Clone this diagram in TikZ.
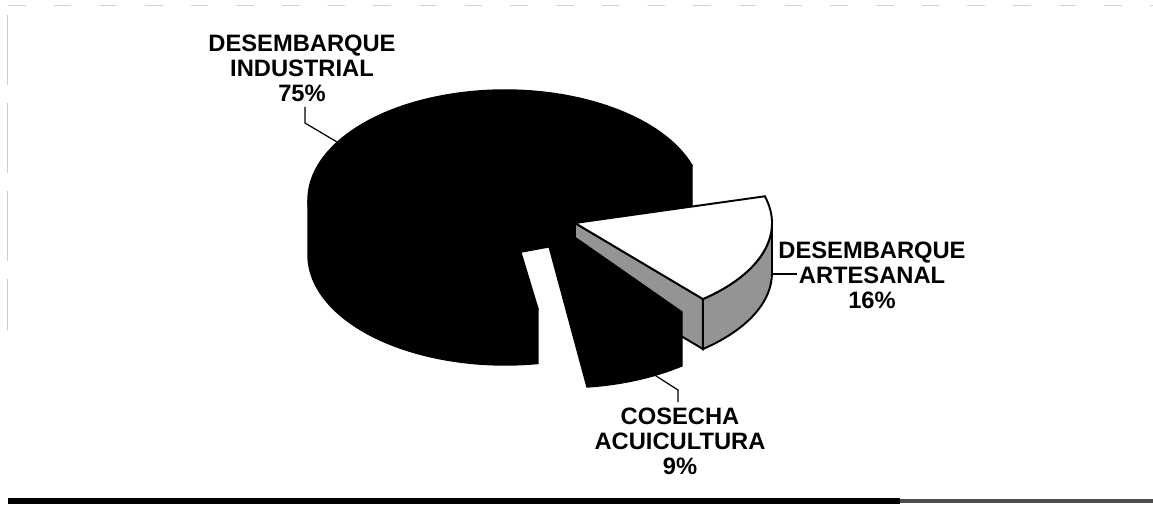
\documentclass[tikz,border=0pt]{standalone}
\usepackage{fontspec}
\setmainfont{Liberation Sans}
\begin{document}
\begin{tikzpicture}[x=0.02cm, y=-0.02cm,
        every node/.style={font=\bfseries\fontsize{13.5}{14.2}\selectfont, align=center, inner sep=3pt},
        slice/.style={draw=black, line width=0.8pt, fill=black},
        side/.style={draw=black, line width=1.1pt, fill=black!42},
        top/.style={draw=black, line width=1.1pt, fill=white},
        leader/.style={draw=black, line width=0.7pt}]
    \def \R {197}
    \def \ry {110}
    \def \h {55}
    \def \ryb {100}
    \def \hb {50}
    \useasboundingbox (0,0) rectangle (1153,504);
    % edges of the scanned page
    \draw[gray!35, line width=0.5pt, dash pattern=on 10pt off 16pt] (8,5) -- (1153,5);
    \draw[gray!40, line width=0.5pt, dash pattern=on 40pt off 10pt] (7,15) -- (7,330);
    \draw[line width=3.2pt] (8,501) -- (900,501);
    \draw[black!70, line width=2pt] (900,501) -- (1153,501);
    % desembarque industrial
    \coordinate (O) at (505,200);
    \coordinate (Ob) at (505,255);
    \filldraw[slice] (O) -- ++(-18.3:{\R} and {\ry}) arc[start angle=-18.3, end angle=-279.6, x radius=\R, y radius=\ry] -- cycle;
    \filldraw[slice] (O) ++(-180:{\R} and {\ry}) arc[start angle=-180, end angle=-279.6, x radius=\R, y radius=\ry]
        -- ++(0,\h) arc[start angle=-279.6, end angle=-180, x radius=\R, y radius=\ry] -- cycle;
    \filldraw[slice] (O) -- ++(-18.3:{\R} and {\ry}) -- ++(0,\h) -- (Ob) -- cycle;
    % desembarque artesanal
    \coordinate (A) at (575,223);
    \coordinate (Ab) at (575,273);
    \filldraw[side] (A) ++(0:{\R} and {\ryb}) arc[start angle=0, end angle=49.5, x radius=\R, y radius=\ryb]
        -- ++(0,\hb) arc[start angle=49.5, end angle=0, x radius=\R, y radius=\ryb] -- cycle;
    \filldraw[side] (A) -- ++(49.5:{\R} and {\ryb}) -- ++(0,\hb) -- (Ab) -- cycle;
    \filldraw[top] (A) -- ++(-15.5:{\R} and {\ryb}) arc[start angle=-15.5, end angle=49.5, x radius=\R, y radius=\ryb] -- cycle;
    % cosecha acuicultura
    \filldraw[slice] (540,213) -- (587,387) arc[start angle=83.3, end angle=53.2, x radius=\R, y radius=\ry] -- (682,312) -- cycle;
    % labels
    \node (ind) at (302,68) {DESEMBARQUE\\INDUSTRIAL\\75\%};
    \node (art) at (872,275) {DESEMBARQUE\\ARTESANAL\\16\%};
    \node (cos) at (680,441) {COSECHA\\ACUICULTURA\\9\%};
    \coordinate (indrim) at (337,142);
    \coordinate (indbend) at (305,123);
    \coordinate (artrim) at (771,274);
    \coordinate (artend) at (797,274);
    \coordinate (cosrim) at (653,374);
    \coordinate (cosbend) at (678,390);
    \draw[leader] (indrim) -- (indbend) -- (indbend |- ind.south);
    \draw[leader] (artrim) -- (artend);
    \draw[leader] (cosrim) -- (cosbend) -- (cosbend |- cos.north);
\end{tikzpicture}
\end{document}
